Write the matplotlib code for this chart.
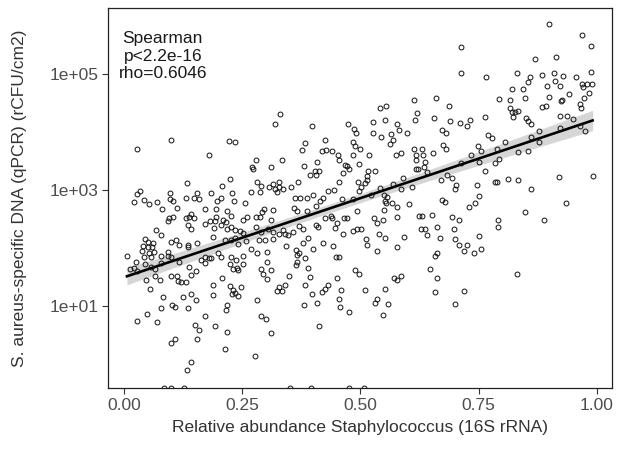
import numpy as np
import matplotlib
matplotlib.use("Agg")
import matplotlib.pyplot as plt

# relative abundance (x) and log10 of S. aureus DNA (y)
points = [
    (0.330, 4.31), (0.320, 4.14), (0.397, 4.10), (0.473, 4.14), (0.487, 4.06), (0.490, 3.99),
    (0.712, 5.46), (0.712, 5.02), (0.766, 4.94), (0.613, 4.56), (0.660, 4.58), (0.687, 4.45),
    (0.541, 4.41), (0.555, 4.45), (0.619, 4.32), (0.615, 4.21), (0.655, 4.24), (0.526, 4.17),
    (0.551, 4.21), (0.578, 4.14), (0.689, 4.19), (0.710, 4.15), (0.732, 4.21), (0.725, 4.11),
    (0.763, 4.26), (0.526, 3.99), (0.564, 3.97), (0.581, 4.03), (0.598, 3.98), (0.672, 4.04),
    (0.680, 3.98), (0.770, 3.95),
    (0.898, 5.86), (0.968, 5.68), (0.987, 5.48), (0.870, 5.26), (0.914, 5.29), (0.832, 5.02),
    (0.858, 4.94), (0.884, 4.99), (0.909, 5.02), (0.928, 4.97), (0.955, 4.94), (0.987, 5.03),
    (0.854, 4.86), (0.895, 4.80), (0.912, 4.88), (0.922, 4.80), (0.968, 4.83), (0.979, 4.83),
    (0.989, 4.83), (0.970, 4.78), (0.820, 4.74), (0.844, 4.74), (0.793, 4.57), (0.816, 4.55),
    (0.848, 4.58), (0.898, 4.60), (0.926, 4.56), (0.941, 4.66), (0.984, 4.67), (0.972, 4.58),
    (0.965, 4.49), (0.816, 4.41), (0.820, 4.34), (0.827, 4.35), (0.834, 4.36), (0.823, 4.25),
    (0.884, 4.43), (0.892, 4.45), (0.925, 4.53), (0.967, 4.41), (0.851, 4.24), (0.854, 4.19),
    (0.861, 4.14), (0.922, 4.28), (0.937, 4.27), (0.949, 4.22), (0.877, 4.01), (0.922, 4.07),
    (0.965, 4.10), (0.975, 4.02),
    (0.099, 3.87), (0.221, 3.85), (0.235, 3.83), (0.027, 3.71), (0.180, 3.61), (0.134, 3.12),
    (0.223, 3.19), (0.207, 3.07), (0.034, 2.99), (0.028, 2.93), (0.021, 2.79), (0.042, 2.82),
    (0.053, 2.76), (0.069, 2.79), (0.080, 2.67), (0.097, 2.94), (0.097, 2.84), (0.103, 2.81),
    (0.111, 2.69), (0.130, 2.87), (0.147, 2.87), (0.155, 2.94), (0.159, 2.84), (0.183, 2.95),
    (0.204, 2.86), (0.196, 2.81), (0.229, 2.95), (0.233, 2.81), (0.172, 2.67), (0.195, 2.67),
    (0.217, 2.63), (0.141, 2.59), (0.138, 2.53), (0.148, 2.52), (0.130, 2.51), (0.096, 2.52),
    (0.104, 2.53), (0.093, 2.46), (0.135, 2.40), (0.141, 2.32), (0.172, 2.41), (0.182, 2.46),
    (0.195, 2.53), (0.193, 2.47), (0.210, 2.49), (0.216, 2.45), (0.226, 2.55), (0.190, 2.34),
    (0.204, 2.40), (0.217, 2.32), (0.227, 2.37), (0.234, 2.31), (0.068, 2.31), (0.078, 2.23),
    (0.044, 2.15), (0.051, 2.11), (0.061, 2.08), (0.041, 2.03), (0.051, 2.01), (0.059, 2.02),
    (0.037, 1.94), (0.053, 1.92), (0.063, 1.93), (0.100, 2.11), (0.110, 2.14), (0.117, 2.06),
    (0.135, 2.06), (0.135, 2.01), (0.155, 2.08), (0.188, 2.19), (0.214, 2.14), (0.227, 2.14),
    (0.234, 2.17), (0.006, 1.86), (0.042, 1.85), (0.058, 1.85), (0.079, 1.86), (0.092, 1.93),
    (0.093, 1.86), (0.099, 1.85), (0.171, 1.85), (0.179, 1.83), (0.199, 1.91), (0.204, 1.84),
    (0.227, 1.85),
    (0.424, 3.86), (0.382, 3.81), (0.376, 3.69), (0.419, 3.68), (0.427, 3.69), (0.440, 3.67),
    (0.484, 3.83), (0.488, 3.76), (0.499, 3.71), (0.484, 3.61), (0.452, 3.61), (0.454, 3.51),
    (0.467, 3.43), (0.472, 3.41), (0.496, 3.44), (0.464, 3.29), (0.476, 3.36), (0.279, 3.51),
    (0.271, 3.40), (0.273, 3.36), (0.310, 3.40), (0.333, 3.51), (0.381, 3.41), (0.407, 3.48),
    (0.403, 3.32), (0.413, 3.33), (0.393, 3.26), (0.406, 3.25), (0.282, 3.14), (0.290, 3.07),
    (0.268, 2.97), (0.288, 2.97), (0.306, 3.06), (0.316, 3.10), (0.327, 3.14), (0.327, 3.06),
    (0.319, 3.01), (0.324, 2.97), (0.337, 3.02), (0.354, 3.05), (0.368, 3.14), (0.455, 3.14),
    (0.495, 3.13), (0.509, 3.12), (0.502, 3.06), (0.496, 2.99), (0.255, 2.77), (0.361, 2.86),
    (0.372, 2.87), (0.386, 2.86), (0.400, 2.92), (0.421, 2.86), (0.414, 2.81), (0.431, 2.98),
    (0.444, 3.00), (0.461, 2.85), (0.485, 2.85), (0.359, 2.69), (0.366, 2.63), (0.386, 2.63),
    (0.406, 2.72), (0.297, 2.68), (0.292, 2.62), (0.279, 2.53), (0.288, 2.53), (0.314, 2.66),
    (0.310, 2.48), (0.261, 2.54), (0.251, 2.49), (0.245, 2.30), (0.251, 2.26), (0.278, 2.36),
    (0.289, 2.28), (0.304, 2.33), (0.316, 2.28), (0.327, 2.24), (0.336, 2.31), (0.341, 2.24),
    (0.347, 2.22), (0.358, 2.28), (0.369, 2.38), (0.378, 2.33), (0.406, 2.40), (0.410, 2.37),
    (0.426, 2.52), (0.437, 2.56), (0.440, 2.51), (0.465, 2.52), (0.471, 2.52), (0.492, 2.63),
    (0.447, 2.34), (0.451, 2.43), (0.462, 2.24), (0.485, 2.29), (0.492, 2.32), (0.502, 2.33),
    (0.512, 2.16), (0.242, 2.07), (0.258, 2.12), (0.269, 1.99), (0.286, 2.14), (0.299, 2.13),
    (0.314, 2.16), (0.282, 1.91), (0.302, 1.93), (0.342, 2.03), (0.364, 1.97), (0.369, 1.92),
    (0.365, 1.88), (0.379, 2.08), (0.390, 2.18), (0.400, 1.98), (0.421, 2.08), (0.441, 2.03),
    (0.448, 1.85), (0.454, 1.84),
    (0.543, 3.91), (0.568, 3.86), (0.562, 3.79), (0.779, 3.90), (0.519, 3.61), (0.575, 3.61),
    (0.585, 3.63), (0.613, 3.70), (0.630, 3.71), (0.617, 3.60), (0.632, 3.60), (0.617, 3.51),
    (0.637, 3.49), (0.653, 3.64), (0.674, 3.77), (0.681, 3.71), (0.748, 3.75), (0.754, 3.67),
    (0.733, 3.61), (0.751, 3.48), (0.713, 3.46), (0.617, 3.37), (0.622, 3.36), (0.634, 3.39),
    (0.641, 3.31), (0.516, 3.32), (0.531, 3.32), (0.514, 3.24), (0.513, 3.17), (0.590, 3.21),
    (0.569, 3.10), (0.541, 3.03), (0.523, 2.91), (0.585, 3.01), (0.609, 3.06), (0.671, 3.17),
    (0.684, 3.26), (0.693, 3.21), (0.703, 3.09), (0.700, 3.01), (0.747, 3.09), (0.764, 3.33),
    (0.785, 3.14), (0.550, 2.91), (0.557, 2.88), (0.552, 2.81), (0.555, 2.77), (0.567, 2.78),
    (0.577, 2.70), (0.603, 2.76), (0.672, 2.83), (0.679, 2.79), (0.750, 2.90), (0.743, 2.78),
    (0.730, 2.70), (0.550, 2.66), (0.577, 2.54), (0.529, 2.51), (0.534, 2.43), (0.547, 2.48),
    (0.623, 2.55), (0.630, 2.56), (0.651, 2.57), (0.693, 2.54), (0.709, 2.49), (0.627, 2.32),
    (0.636, 2.32), (0.640, 2.23), (0.662, 2.37), (0.698, 2.33), (0.514, 2.06), (0.540, 2.24),
    (0.551, 2.18), (0.593, 2.19), (0.668, 2.18), (0.699, 2.16), (0.751, 2.21), (0.536, 1.94),
    (0.577, 2.02), (0.658, 1.87), (0.662, 1.92), (0.709, 2.05), (0.726, 2.06), (0.719, 1.94),
    (0.740, 1.91), (0.754, 1.98),
    (0.805, 3.82), (0.788, 3.71), (0.785, 3.46), (0.792, 3.53), (0.861, 3.91), (0.878, 3.83),
    (0.834, 3.66), (0.854, 3.68), (0.788, 3.13), (0.812, 3.19), (0.834, 3.17), (0.860, 3.02),
    (0.919, 3.22), (0.991, 3.24), (0.934, 2.77), (0.848, 2.62), (0.791, 2.48), (0.791, 2.37),
    (0.888, 2.49),
    (0.025, 1.75), (0.044, 1.72), (0.056, 1.67), (0.065, 1.63), (0.013, 1.63), (0.021, 1.65),
    (0.028, 1.60), (0.078, 1.74), (0.116, 1.75), (0.163, 1.80), (0.171, 1.74), (0.183, 1.82),
    (0.237, 1.80), (0.223, 1.72), (0.230, 1.63), (0.238, 1.65), (0.138, 1.68), (0.152, 1.60),
    (0.142, 1.53), (0.099, 1.52), (0.111, 1.51), (0.114, 1.43), (0.121, 1.41), (0.130, 1.42),
    (0.047, 1.45), (0.066, 1.52), (0.075, 1.45), (0.055, 1.29), (0.207, 1.48), (0.189, 1.37),
    (0.189, 1.19), (0.224, 1.35), (0.231, 1.28), (0.234, 1.22), (0.228, 1.20), (0.083, 1.16),
    (0.125, 1.16), (0.142, 1.21), (0.152, 1.11), (0.078, 0.97), (0.101, 1.02), (0.107, 0.98),
    (0.135, 0.96), (0.048, 0.87), (0.027, 0.74), (0.069, 0.73), (0.172, 0.83), (0.218, 1.02),
    (0.216, 0.93), (0.149, 0.68), (0.159, 0.59), (0.193, 0.66), (0.217, 0.55), (0.155, 0.43),
    (0.107, 0.43), (0.100, 0.36), (0.213, 0.26), (0.141, 0.03), (0.133, -0.11),
    (0.251, 1.86), (0.252, 1.72), (0.242, 1.62), (0.302, 1.76), (0.289, 1.64), (0.293, 1.56),
    (0.310, 1.62), (0.303, 1.47), (0.248, 1.33), (0.240, 1.17), (0.349, 1.52), (0.327, 1.32),
    (0.323, 1.26), (0.333, 1.26), (0.340, 1.37), (0.366, 1.76), (0.364, 1.71), (0.382, 1.83),
    (0.388, 1.66), (0.393, 1.50), (0.383, 1.37), (0.397, 1.21), (0.419, 1.24), (0.424, 1.29),
    (0.431, 1.37), (0.450, 1.48), (0.459, 1.28), (0.454, 1.12), (0.457, 0.98), (0.476, 0.90),
    (0.488, 1.62), (0.496, 1.55), (0.510, 1.28), (0.381, 1.02), (0.407, 1.05), (0.413, 0.66),
    (0.282, 1.10), (0.289, 0.82), (0.300, 0.78), (0.311, 0.53), (0.276, 0.14),
    (0.648, 1.64), (0.662, 1.48), (0.658, 1.24), (0.719, 1.25), (0.699, 1.03), (0.571, 1.48),
    (0.577, 1.45), (0.586, 1.52), (0.551, 1.29), (0.534, 1.12), (0.530, 1.05), (0.558, 1.03),
    (0.547, 0.84), (0.832, 1.56),
]

# samples with no detectable DNA (drawn on the bottom edge, like -Inf in ggplot)
zero_abundance = [0.085, 0.099, 0.127, 0.351, 0.395, 0.475, 0.507]

x_ticks = [0.0, 0.25, 0.5, 0.75, 1.0]
x_tick_labels = ["0.00", "0.25", "0.50", "0.75", "1.00"]
y_ticks = [1e1, 1e3, 1e5]
y_tick_labels = ["1e+01", "1e+03", "1e+05"]
stats_text = "Spearman\np<2.2e-16\nrho=0.6046"

plt.rcParams['font.family'] = ['Liberation Sans', 'DejaVu Sans']

x = np.array([p[0] for p in points])
logy = np.array([p[1] for p in points])

# linear fit on log10 scale + 95% band (geom_smooth(method="lm"))
slope, intercept = np.polyfit(x, logy, 1)
n = len(x)
resid = logy - (slope * x + intercept)
s = np.sqrt(np.sum(resid ** 2) / (n - 2))
xs = np.linspace(x.min(), x.max(), 100)
fit = slope * xs + intercept
se = s * np.sqrt(1 / n + (xs - x.mean()) ** 2 / np.sum((x - x.mean()) ** 2))
t = 1.965

fig = plt.figure(figsize=(6.17, 4.54), dpi=100)
ax = fig.add_axes([108 / 617, 1 - 388 / 454, 504 / 617, 380 / 454])

ylo, yhi = -0.414, 6.138
ax.set_yscale('log')
ax.set_xlim(-0.034, 1.032)
ax.set_ylim(10 ** ylo, 10 ** yhi)

ax.fill_between(xs, 10 ** (fit - t * se), 10 ** (fit + t * se), color='#999999', alpha=0.4, lw=0, zorder=2)
ax.plot(xs, 10 ** fit, color='black', lw=1.9, zorder=3)

ax.plot(x, 10 ** logy, 'o', ms=3.5, mfc='none', mec='#111111', mew=0.7, zorder=4)
ax.plot(zero_abundance, [10 ** ylo] * len(zero_abundance), 'o', ms=3.5, mfc='none',
        mec='#111111', mew=0.7, zorder=4, clip_on=True)

ax.text(0.082, 10 ** 5.31, stats_text, ha='center', va='center', fontsize=12.5,
        color='#1a1a1a', linespacing=1.22)

ax.set_xticks(x_ticks)
ax.set_xticklabels(x_tick_labels)
ax.set_yticks(y_ticks)
ax.set_yticklabels(y_tick_labels)
ax.minorticks_off()
ax.tick_params(direction='out', length=4, width=0.8, colors='#333333', labelsize=12.5,
               labelcolor='#4d4d4d', pad=3)

for sp in ax.spines.values():
    sp.set_color('#222222')
    sp.set_linewidth(0.9)

ax.set_xlabel("Relative abundance Staphylococcus (16S rRNA)", fontsize=12.5, color='#333333')
ax.set_ylabel("S. aureus-specific DNA (qPCR) (rCFU/cm2)", fontsize=12.5, color='#333333')
ax.xaxis.set_label_coords(0.5, -0.085)
ax.yaxis.set_label_coords(-0.16, 0.5)

fig.savefig("out.png", dpi=100)
